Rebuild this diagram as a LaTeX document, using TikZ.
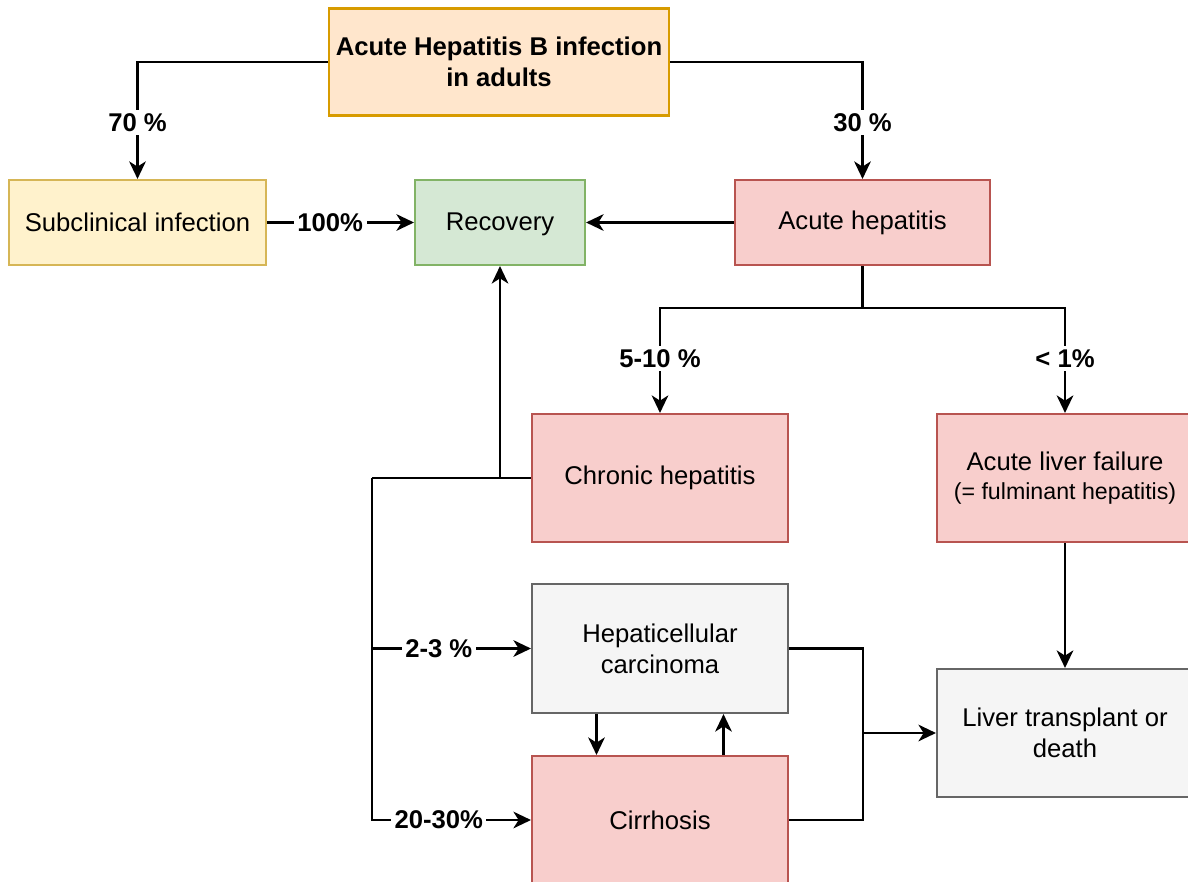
\documentclass[tikz,border=0pt]{standalone}
\usepackage{fontspec}
\setmainfont{Liberation Sans}
\usetikzlibrary{arrows.meta, positioning, calc}

\definecolor{orangefill}{HTML}{FFE6CC}\definecolor{orangeline}{HTML}{D79B00}
\definecolor{yellowfill}{HTML}{FFF2CC}\definecolor{yellowline}{HTML}{D6B656}
\definecolor{greenfill}{HTML}{D5E8D4}\definecolor{greenline}{HTML}{82B366}
\definecolor{redfill}{HTML}{F8CECC}\definecolor{redline}{HTML}{B85450}
\definecolor{greyfill}{HTML}{F5F5F5}\definecolor{greyline}{HTML}{666666}

\begin{document}
\begin{tikzpicture}[
    box/.style={draw, line width=1.2pt, align=center, inner sep=0pt,
      font=\fontsize{14.6}{17.5}\selectfont},
    lbl/.style={fill=white, inner sep=2pt, font=\fontsize{14.6}{17}\selectfont\bfseries},
    arr/.style={line width=1.2pt, -{Stealth[length=10pt, width=9.5pt, inset=3pt]}},
    line/.style={line width=1.2pt}
  ]
    \useasboundingbox (0,0) rectangle (23.76,-17.64);

    % boxes
    \node[box, fill=orangefill, draw=orangeline, minimum width=6.8cm, minimum height=2.14cm,
      font=\fontsize{14.6}{17.5}\selectfont\bfseries] (infect) at (9.98,-1.24)
      {Acute Hepatitis B infection\\in adults};
    \node[box, fill=yellowfill, draw=yellowline, minimum width=5.14cm, minimum height=1.7cm] (subclin) at (2.75,-4.45) {Subclinical infection};
    \node[box, fill=greenfill, draw=greenline, minimum width=3.4cm, minimum height=1.7cm, text depth=0.1ex] (recovery) at (10.0,-4.45) {Recovery};
    \node[box, fill=redfill, draw=redline, minimum width=5.1cm, minimum height=1.7cm] (acutehep) at (17.25,-4.45) {Acute hepatitis};
    \node[box, fill=redfill, draw=redline, minimum width=5.12cm, minimum height=2.56cm] (chronic) at (13.2,-9.56) {Chronic hepatitis};
    \node[box, fill=redfill, draw=redline, minimum width=5.12cm, minimum height=2.56cm] (failure) at (21.3,-9.56)
      {Acute liver failure\\[-1pt]{\fontsize{13.2}{15}\selectfont(= fulminant hepatitis)}};
    \node[box, fill=greyfill, draw=greyline, minimum width=5.12cm, minimum height=2.58cm] (hcc) at (13.2,-12.97) {Hepaticellular\\carcinoma};
    \node[box, fill=redfill, draw=redline, minimum width=5.12cm, minimum height=2.56cm] (cirrhosis) at (13.2,-16.4) {Cirrhosis};
    \node[box, fill=greyfill, draw=greyline, minimum width=5.12cm, minimum height=2.56cm] (transplant) at (21.3,-14.66) {Liver transplant or\\death};

    % first split
    \draw[arr] (infect.west) -| node[lbl, pos=0.76] {70 \%} (subclin.north);
    \draw[arr] (infect.east) -| node[lbl, pos=0.76] {30 \%} (acutehep.north);
    \draw[arr] (subclin.east) -- node[lbl, pos=0.43] {100\%} (recovery.west);
    \draw[arr] (acutehep.west) -- (recovery.east);

    % acute hepatitis outcomes
    \coordinate (fork) at ($(acutehep.south)+(0,-0.84)$);
    \draw[line] (acutehep.south) -- (fork);
    \draw[arr] (fork) -| node[lbl, pos=0.74] {5-10 \%} (chronic.north);
    \draw[arr] (fork) -| node[lbl, pos=0.74] {< 1\%} (failure.north);

    % chronic course
    \coordinate (trunk) at (7.44,-9.56);
    \draw[line] (chronic.west) -- (trunk);
    \draw[arr] (recovery.south |- chronic.west) -- (recovery.south);
    \draw[arr] (trunk) |- node[lbl, pos=0.71] {2-3 \%} (hcc.west);
    \draw[arr] (trunk) |- node[lbl, pos=0.71] {20-30\%} (cirrhosis.west);
    \draw[arr] ([xshift=-1.27cm]hcc.south) -- ([xshift=-1.27cm]cirrhosis.north);
    \draw[arr] ([xshift=1.27cm]cirrhosis.north) -- ([xshift=1.27cm]hcc.south);

    % end stage
    \coordinate (join) at (17.26,-14.66);
    \draw[line] (hcc.east) -| (join);
    \draw[line] (cirrhosis.east) -| (join);
    \draw[arr] (join) -- (transplant.west);
    \draw[arr] (failure.south) -- (transplant.north);
\end{tikzpicture}
\end{document}
